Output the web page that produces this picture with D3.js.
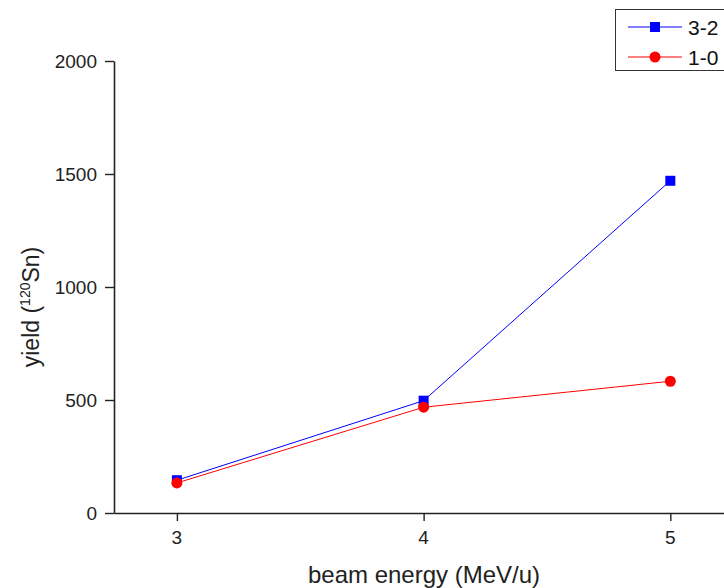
<!DOCTYPE html>
<html>
<head>
<meta charset="utf-8">
<script src="https://cdn.jsdelivr.net/npm/d3@7"></script>
<style>
  html, body { margin: 0; padding: 0; background: #fff; }
  svg { display: block; font-family: "Liberation Sans", Arial, sans-serif; }
</style>
</head>
<body>
<svg id="chart" width="724" height="588"></svg>
<script>
// Beam energies (MeV/u) and yields for the two transitions
const energies = [3, 4, 5];
const yield32 = [145, 497, 1470];
const yield10 = [133, 468, 583];
const seriesNames = ["3-2", "1-0"];
const seriesColors = ["#0000ff", "#ff0000"];
const yTicks = [0, 500, 1000, 1500, 2000];
const xTicks = [3, 4, 5];

const svg = d3.select("#chart");

const x = d3.scaleLinear().domain([2.745, 5.25]).range([114, 732]);
const y = d3.scaleLinear().domain([0, 2000]).range([513, 61]);

// Axes: lines and ticks from d3.axis, labels drawn separately
const axisColor = "#222";
const xAxis = svg.append("g")
  .attr("transform", `translate(0,${y(0)})`)
  .call(d3.axisBottom(x).tickValues(xTicks).tickFormat("").tickSize(8).tickSizeOuter(0));
const yAxis = svg.append("g")
  .attr("transform", `translate(${x.range()[0]},0)`)
  .call(d3.axisLeft(y).tickValues(yTicks).tickFormat("").tickSize(9).tickSizeOuter(0));

[xAxis, yAxis].forEach(g => {
  g.select(".domain").attr("stroke", axisColor).attr("stroke-width", 1.6);
  g.selectAll(".tick line").attr("stroke", axisColor).attr("stroke-width", 1.4);
});

const fmt = d3.format("d");
svg.append("g").selectAll("text")
  .data(xTicks).join("text")
  .attr("x", d => x(d)).attr("y", y(0) + 31)
  .attr("text-anchor", "middle")
  .attr("fill", "#222")
  .style("font", "19px 'Liberation Sans', Arial, sans-serif")
  .text(fmt);

svg.append("g").selectAll("text")
  .data(yTicks).join("text")
  .attr("x", x.range()[0] - 17).attr("y", d => y(d)).attr("dy", "0.35em")
  .attr("text-anchor", "end")
  .attr("fill", "#222")
  .style("font", "19px 'Liberation Sans', Arial, sans-serif")
  .text(fmt);

// Axis titles
svg.append("text")
  .attr("x", 424).attr("y", 583)
  .attr("text-anchor", "middle")
  .attr("fill", "#222")
  .attr("font-size", 24)
  .text("beam energy (MeV/u)");

const yt = svg.append("text")
  .attr("transform", `translate(39,307) rotate(-90)`)
  .attr("text-anchor", "middle")
  .attr("fill", "#222")
  .attr("font-size", 23);
yt.append("tspan").text("yield (");
yt.append("tspan").attr("dy", -9).attr("font-size", 14).text("120");
yt.append("tspan").attr("dy", 9).text("Sn)");

// Series
const series = [yield32, yield10];
const line = d3.line().x((d, i) => x(energies[i])).y(d => y(d));

series.forEach((vals, si) => {
  svg.append("path")
    .datum(vals)
    .attr("d", line)
    .attr("fill", "none")
    .attr("stroke", seriesColors[si])
    .attr("stroke-width", 1);
});

function drawMarker(g, si, cx, cy) {
  if (si === 0) {
    g.append("rect").attr("x", cx - 5).attr("y", cy - 5).attr("width", 10).attr("height", 10)
      .attr("fill", seriesColors[si]);
  } else {
    g.append("circle").attr("cx", cx).attr("cy", cy).attr("r", 5.5).attr("fill", seriesColors[si]);
  }
}

series.forEach((vals, si) => {
  const g = svg.append("g");
  vals.forEach((v, i) => drawMarker(g, si, x(energies[i]), y(v)));
});

// Legend
const legend = svg.append("g");
legend.append("rect")
  .attr("x", 615.5).attr("y", 9.5).attr("width", 120).attr("height", 61)
  .attr("fill", "#fff").attr("stroke", "#333").attr("stroke-width", 1);
seriesNames.forEach((name, si) => {
  const ly = 27 + si * 30;
  legend.append("line").attr("x1", 628).attr("x2", 682).attr("y1", ly).attr("y2", ly)
    .attr("stroke", seriesColors[si]).attr("stroke-width", 1);
  drawMarker(legend, si, 655, ly);
  legend.append("text").attr("x", 688).attr("y", ly).attr("dy", "0.36em")
    .attr("fill", "#111").attr("font-size", 21).text(name);
});
</script>
</body>
</html>
